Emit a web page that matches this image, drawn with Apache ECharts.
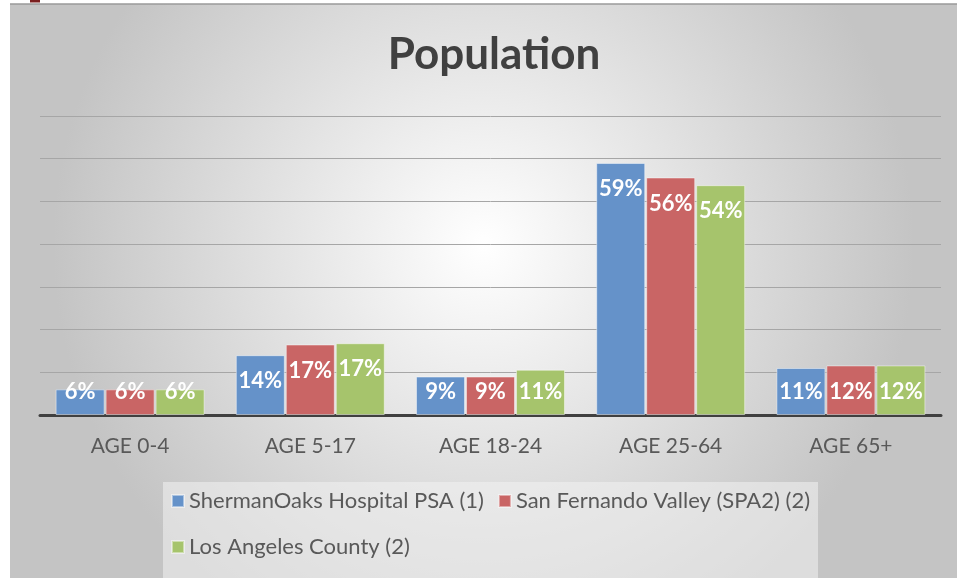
<!DOCTYPE html>
<html>
<head>
<meta charset="utf-8">
<script src="https://cdn.jsdelivr.net/npm/echarts@6/dist/echarts.min.js"></script>
<style>
  html, body { margin: 0; padding: 0; background: #fff; }
  #chart { width: 957px; height: 578px; }
</style>
</head>
<body>
<div id="chart"></div>
<script>
// categories + series values (percent)
const categories = ['AGE 0-4', 'AGE 5-17', 'AGE 18-24', 'AGE 25-64', 'AGE 65+'];
const shermanOaks = [6, 14, 9, 59, 11];
const sanFernando = [6, 16.5, 9, 55.6, 11.6];
const laCounty = [6, 16.8, 10.6, 53.8, 11.6];
const seriesNames = ['ShermanOaks Hospital PSA (1)', 'San Fernando Valley (SPA2) (2)', 'Los Angeles County (2)'];

const FONT = 'Lato, "Noto Sans", sans-serif';

// short bars get the label parked near the bottom, tall ones near the top
function withLabels(vals) {
  return vals.map(v => ({
    value: v,
    label: v < 13
      ? { position: 'insideBottom', distance: 12 }
      : { position: 'insideTop', distance: 15 }
  }));
}

function barSeries(name, vals, color) {
  return {
    name: name,
    type: 'bar',
    barWidth: 49,
    barGap: '2%',
    data: withLabels(vals),
    itemStyle: { color: color, borderColor: 'rgba(255,255,255,0.45)', borderWidth: 1 },
    label: {
      show: true,
      color: '#fff',
      fontFamily: FONT,
      fontWeight: 'bold',
      fontSize: 22,
      formatter: p => Math.round(p.value) + '%'
    }
  };
}

const chart = echarts.init(document.getElementById('chart'));
chart.setOption({
  animation: false,
  graphic: [
    {
      type: 'rect', z: -10, silent: true,
      shape: { x: 10, y: 4, width: 947, height: 574 },
      style: {
        fill: {
          type: 'radial', x: 0.5, y: 0.42, r: 0.75,
          colorStops: [
            { offset: 0, color: '#ffffff' },
            { offset: 1, color: '#c4c4c4' }
          ]
        },
        stroke: null
      }
    },
    {
      type: 'line', z: -9, silent: true,
      shape: { x1: 10, y1: 4, x2: 957, y2: 4 },
      style: { stroke: '#9a9a9a', lineWidth: 1.5 }
    },
    {
      type: 'rect', z: -9, silent: true,
      shape: { x: 30, y: 0, width: 10, height: 2.5 },
      style: { fill: '#7a1f1f' }
    },
    {
      type: 'rect', z: -8, silent: true,
      shape: { x: 163, y: 482, width: 655, height: 96 },
      style: { fill: 'rgba(242,242,242,0.55)' }
    }
  ],
  title: {
    text: 'Population',
    left: 489, textAlign: 'center',
    top: 28,
    textStyle: { fontFamily: FONT, fontSize: 44, fontWeight: 'bold', color: '#404040' }
  },
  legend: [
    {
      data: seriesNames.slice(0, 2),
      left: 166, top: 485,
      itemWidth: 12, itemHeight: 12, itemGap: 14,
      icon: 'rect',
      textStyle: { fontFamily: FONT, fontSize: 22, color: '#595959' }
    },
    {
      data: seriesNames.slice(2),
      left: 166, top: 531,
      itemWidth: 12, itemHeight: 12,
      icon: 'rect',
      textStyle: { fontFamily: FONT, fontSize: 22, color: '#595959' }
    }
  ],
  grid: { left: 40, right: 16, top: 116, bottom: 163 },
  xAxis: {
    type: 'category',
    data: categories,
    axisLine: { lineStyle: { color: '#404040', width: 3 } },
    axisTick: { show: false },
    axisLabel: { margin: 21, fontFamily: FONT, fontSize: 21, color: '#595959' }
  },
  yAxis: {
    type: 'value',
    min: 0, max: 70, interval: 10,
    axisLabel: { show: false },
    axisLine: { show: false },
    axisTick: { show: false },
    splitLine: { lineStyle: { color: '#a6a6a6', width: 1 } }
  },
  series: [
    barSeries(seriesNames[0], shermanOaks, '#6592c9'),
    barSeries(seriesNames[1], sanFernando, '#c96565'),
    barSeries(seriesNames[2], laCounty, '#a6c46c')
  ]
});
</script>
</body>
</html>
